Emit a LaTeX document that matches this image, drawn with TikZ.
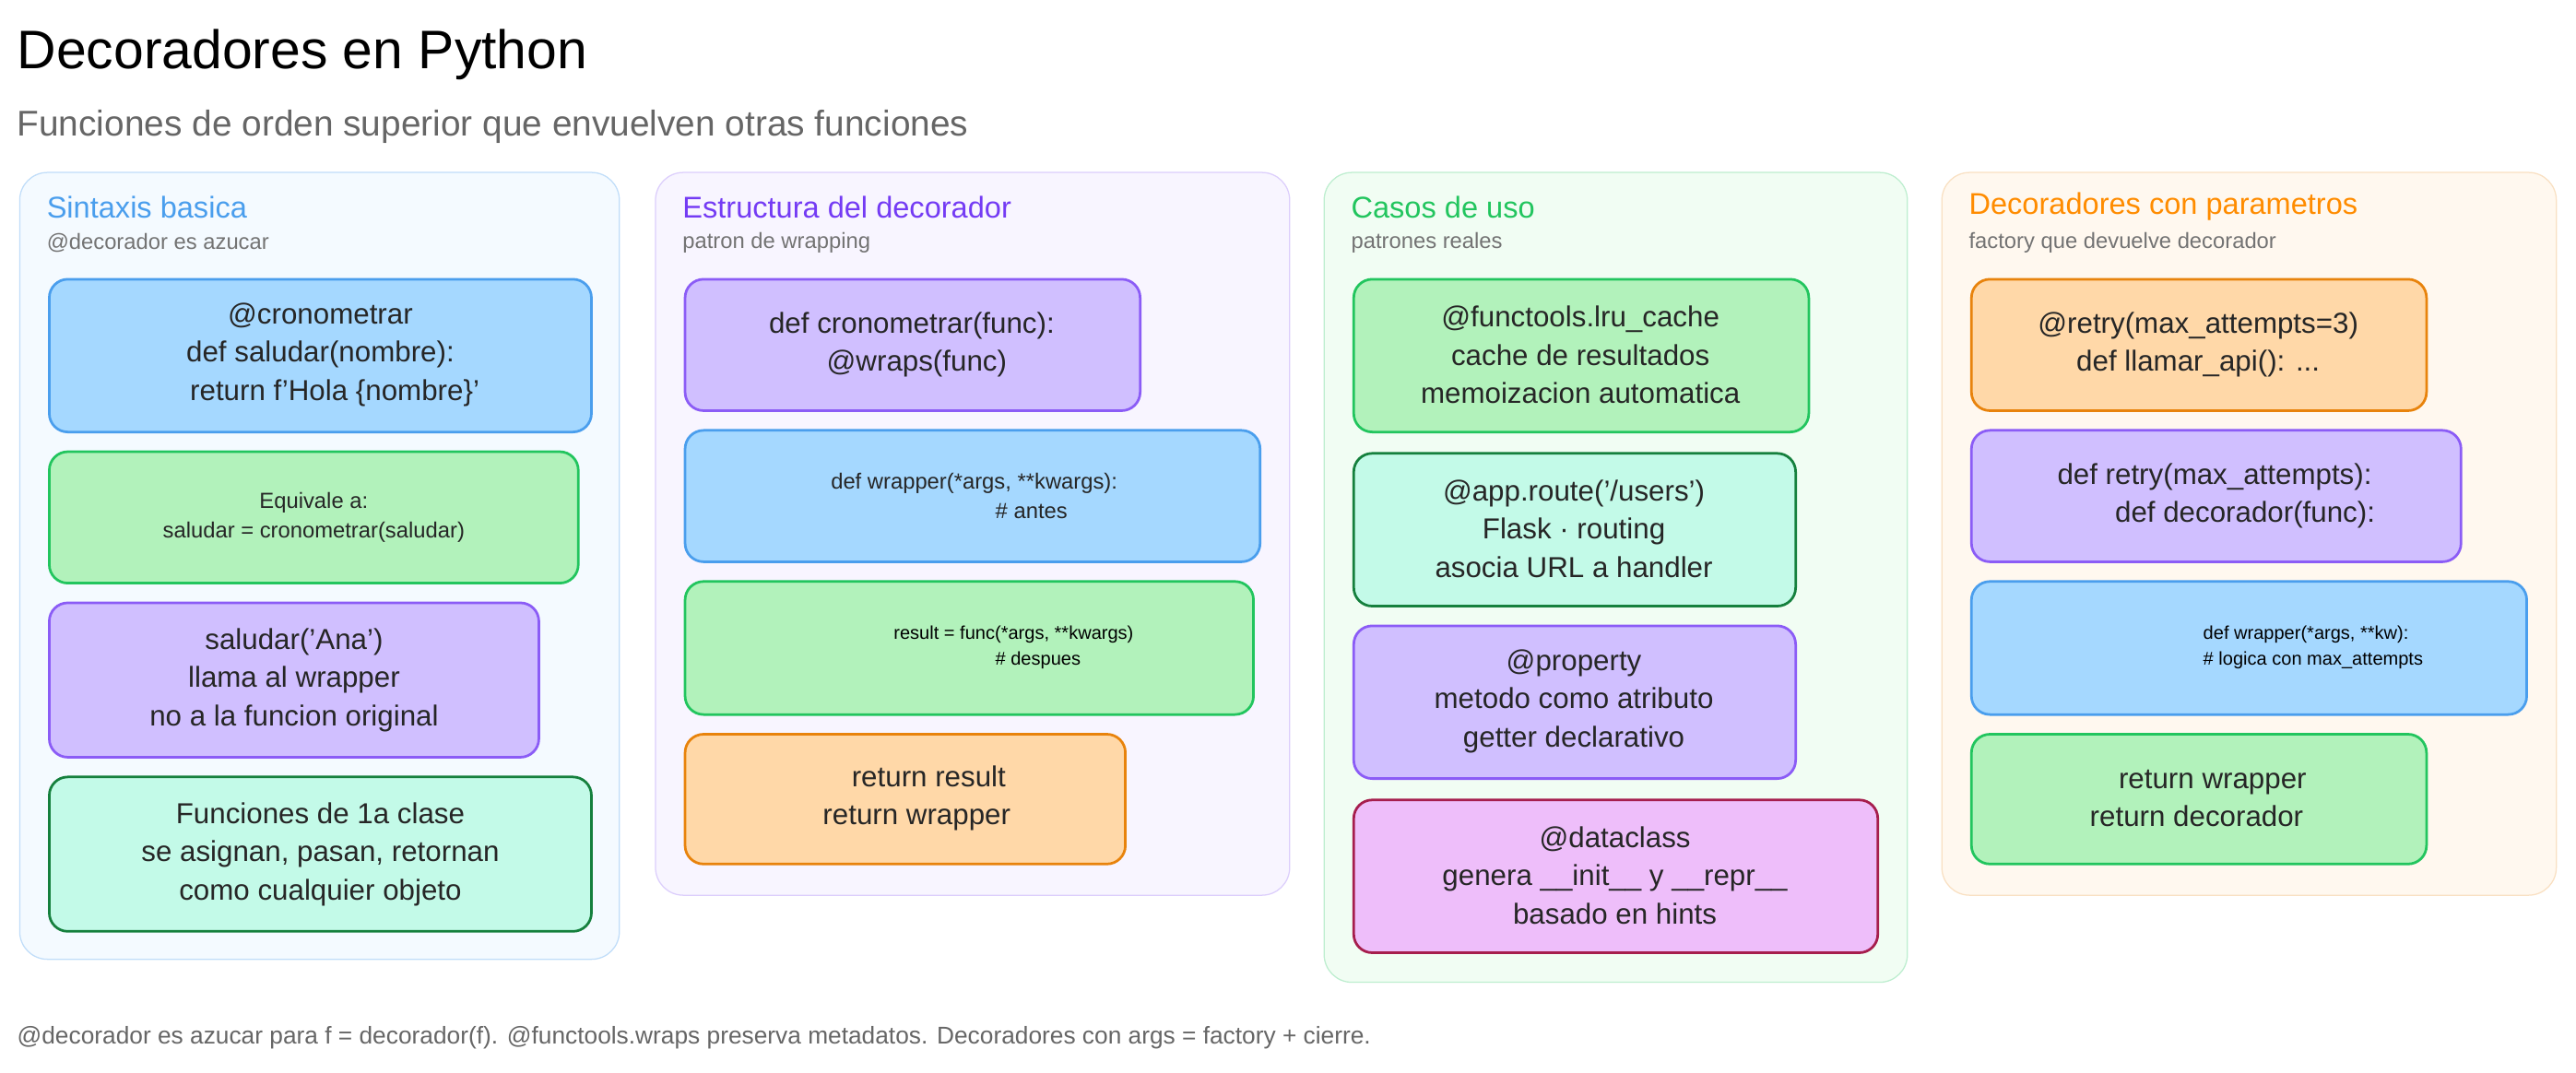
\documentclass[tikz,border=0pt]{standalone}
\usepackage{fontspec}
\setmainfont{Liberation Sans}
\begin{document}
\begin{tikzpicture}[x=0.05cm,y=-0.05cm,
 panel/.style={rounded corners=24pt,line width=1pt},
 box/.style={rounded corners=16pt,line width=2.2pt},
 bt/.style={align=center,font=\fontsize{25}{33}\selectfont,text=black!85},
 st/.style={align=center,font=\fontsize{19}{25}\selectfont,text=black!85},
 ht/.style={anchor=west,font=\fontsize{26}{28}\selectfont},
 sub/.style={anchor=west,font=\fontsize{19}{20}\selectfont,text=black!55}]
\definecolor{bF}{HTML}{A5D8FF}\definecolor{bD}{HTML}{4A9EED}
\definecolor{gF}{HTML}{B2F2BB}\definecolor{gD}{HTML}{22C55E}
\definecolor{pF}{HTML}{D0BFFF}\definecolor{pD}{HTML}{8B5CF6}
\definecolor{tF}{HTML}{C3FAE8}\definecolor{tD}{HTML}{15803D}
\definecolor{oF}{HTML}{FFD8A8}\definecolor{oD}{HTML}{E8830C}
\definecolor{kF}{HTML}{EEBEFA}\definecolor{kD}{HTML}{A61E4D}
\useasboundingbox[fill=white] (0,0) rectangle (1568,653);
\node[anchor=west,font=\fontsize{47}{50}\selectfont] (title) at (8,33) {Decoradores en Python};
\node[anchor=west,font=\fontsize{31}{34}\selectfont,text=black!60] (subt) at (8,77) {Funciones de orden superior que envuelven otras funciones};
% panels
\draw[panel,fill=bF!12,draw=bD!35] (12,105) rectangle (377,584);
\draw[panel,fill=pF!15,draw=pD!30] (399,105) rectangle (785,545);
\draw[panel,fill=gF!18,draw=gD!30] (806,105) rectangle (1161,598);
\draw[panel,fill=oF!18,draw=oD!25] (1182,105) rectangle (1556,545);
\node[ht,text=bD] (h1) at (26,126) {Sintaxis basica};
\node[sub] (s1) at (26,148) {@decorador es azucar};
\node[ht,text=pD!120] (h2) at (413,126) {Estructura del decorador};
\node[sub] (s2) at (413,148) {patron de wrapping};
\node[ht,text=gD] (h3) at (820,126) {Casos de uso};
\node[sub] (s3) at (820,148) {patrones reales};
\node[ht,text=orange!90!yellow] (h4) at (1196,126) {Decoradores con parametros};
\node[sub] (s4) at (1196,148) {factory que devuelve decorador};
% panel 1
\draw[box,fill=bF,draw=bD] (30,170) rectangle (360,263);
\node[bt] (a1) at (195,216) {@cronometrar\\def saludar(nombre):\\\quad return f'Hola \{nombre\}'};
\draw[box,fill=gF,draw=gD] (30,275) rectangle (352,355);
\node[st] (a2) at (191,315) {Equivale a:\\saludar = cronometrar(saludar)};
\draw[box,fill=pF,draw=pD] (30,367) rectangle (328,461);
\node[bt] (a3) at (179,414) {saludar('Ana')\\llama al wrapper\\no a la funcion original};
\draw[box,fill=tF,draw=tD] (30,473) rectangle (360,567);
\node[bt] (a4) at (195,520) {Funciones de 1a clase\\se asignan, pasan, retornan\\como cualquier objeto};
% panel 2
\draw[box,fill=pF,draw=pD] (417,170) rectangle (694,250);
\node[bt,align=left] (b1) at (555,210) {def cronometrar(func):\\\qquad @wraps(func)};
\draw[box,fill=bF,draw=bD] (417,262) rectangle (767,342);
\node[st,align=left] (b2) at (593,302) {def wrapper(*args, **kwargs):\\\hspace{7.5em}\# antes};
\draw[box,fill=gF,draw=gD] (417,354) rectangle (763,435);
\node[font=\fontsize{16}{22}\selectfont,align=left] (b3) at (617,394) {result = func(*args, **kwargs)\\\hspace{5.5em}\# despues};
\draw[box,fill=oF,draw=oD] (417,447) rectangle (685,526);
\node[bt,align=left] (b4) at (558,486) {\quad return result\\return wrapper};
% panel 3
\draw[box,fill=gF,draw=gD] (824,170) rectangle (1101,263);
\node[bt] (c1) at (962,216) {@functools.lru\_cache\\cache de resultados\\memoizacion automatica};
\draw[box,fill=tF,draw=tD] (824,276) rectangle (1093,369);
\node[bt] (c2) at (958,322) {@app.route('/users')\\Flask · routing\\asocia URL a handler};
\draw[box,fill=pF,draw=pD] (824,381) rectangle (1093,474);
\node[bt] (c3) at (958,427) {@property\\metodo como atributo\\getter declarativo};
\draw[box,fill=kF,draw=kD] (824,487) rectangle (1143,580);
\node[bt] (c4) at (983,533) {@dataclass\\genera \_\_init\_\_ y \_\_repr\_\_\\basado en hints};
% panel 4
\draw[box,fill=oF,draw=oD] (1200,170) rectangle (1477,250);
\node[bt] (d1) at (1338,210) {@retry(max\_attempts=3)\\def llamar\_api(): ...};
\draw[box,fill=pF,draw=pD] (1200,262) rectangle (1498,342);
\node[bt,align=left] (d2) at (1349,302) {def retry(max\_attempts):\\\qquad def decorador(func):};
\draw[box,fill=bF,draw=bD] (1200,354) rectangle (1538,435);
\node[font=\fontsize{16}{22}\selectfont,align=left] (d3) at (1408,394) {def wrapper(*args, **kw):\\\# logica con max\_attempts};
\draw[box,fill=gF,draw=gD] (1200,447) rectangle (1477,526);
\node[bt,align=left] (d4) at (1338,486) {\quad return wrapper\\return decorador};
\node[anchor=west,font=\fontsize{21}{24}\selectfont,text=black!60] (foot) at (8,632) {@decorador es azucar para f = decorador(f). @functools.wraps preserva metadatos. Decoradores con args = factory + cierre.};
\end{tikzpicture}
\end{document}
